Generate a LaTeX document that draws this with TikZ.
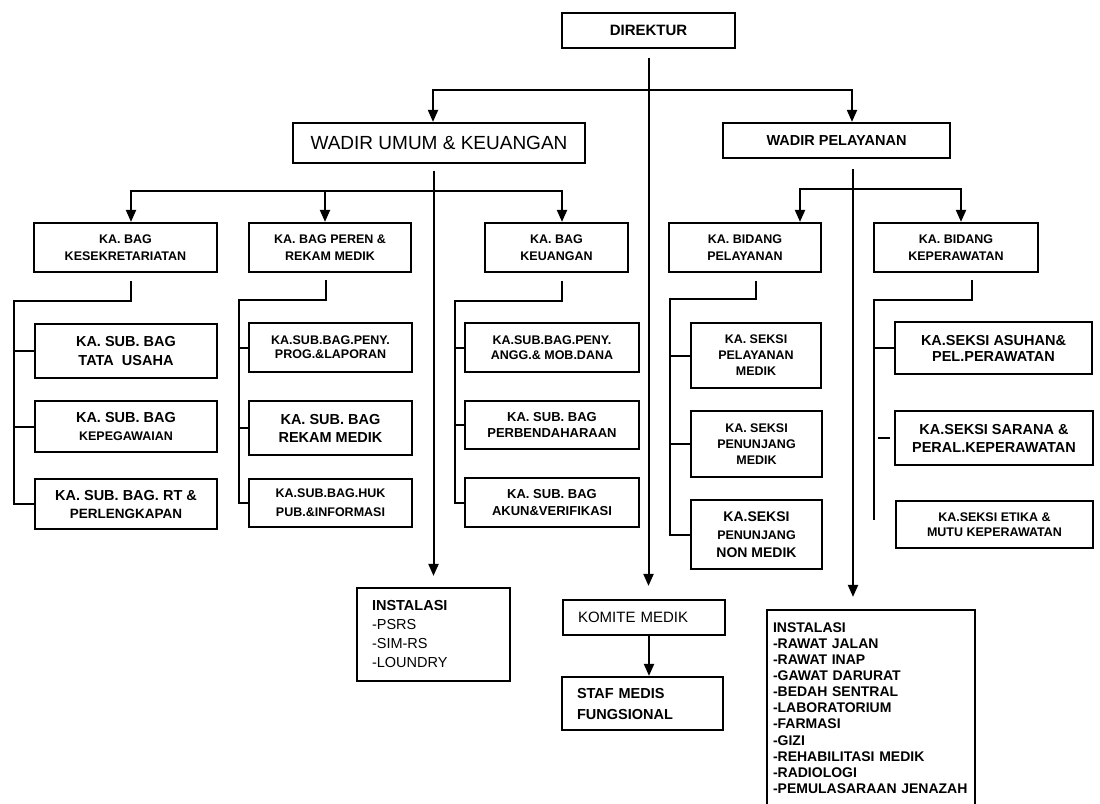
\documentclass[tikz,border=0pt]{standalone}
\usepackage{fontspec}
\setmainfont{Liberation Sans}
\usetikzlibrary{arrows.meta}
\newcommand{\fA}{\fontsize{12.5}{17}\selectfont\bfseries}
\newcommand{\fB}{\fontsize{14.5}{19}\selectfont\bfseries}
\newcommand{\mkbox}[7][]{\node[box,#1, minimum width={(#5-#3)*1pt}, minimum height={(#6-#4)*1pt}] (#2) at ({(#3+#5)/2},{(#4+#6)/2}) {#7};}
\newcommand{\mkboxl}[8][]{\node[box,#1, align=left, text width=#7pt, minimum width={(#5-#3)*1pt}, minimum height={(#6-#4)*1pt}] (#2) at ({(#3+#5)/2},{(#4+#6)/2}) {#8};}
\begin{document}
\begin{tikzpicture}[x=1pt,y=-1pt,
  box/.style={draw, line width=2.2pt, inner sep=0pt, align=center, font=\fA},
  ln/.style={line width=2pt},
  arr/.style={line width=2pt, -{Triangle[length=12pt,width=10pt]}}]
\fill[white] (0,0) rectangle (1100,803);
\useasboundingbox (0,0) rectangle (1100,803);

% top level
\mkbox[font=\fontsize{15}{19}\selectfont\bfseries]{dir}{562}{13}{735}{48}{DIREKTUR}
\mkbox[font=\fontsize{19}{23}\selectfont]{wum}{293}{123}{585}{163}{WADIR UMUM \& KEUANGAN}
\mkbox[font=\fontsize{14.5}{19}\selectfont\bfseries]{wpel}{723}{123}{950}{158}{WADIR PELAYANAN}

% ka. bag / ka. bidang
\mkbox{kes}{34}{223}{217}{272}{KA. BAG\\KESEKRETARIATAN}
\mkbox{per}{249}{223}{411}{272}{KA. BAG PEREN \&\\REKAM MEDIK}
\mkbox{keu}{485}{223}{628}{272}{KA. BAG\\KEUANGAN}
\mkbox{kbp}{669}{223}{821}{272}{KA. BIDANG\\PELAYANAN}
\mkbox{kbk}{874}{223}{1038}{272}{KA. BIDANG\\KEPERAWATAN}

% column 1
\mkbox[font=\fB]{s11}{35}{324}{217}{378}{KA. SUB. BAG\\TATA\ \ USAHA}
\mkbox[font=\fB]{s12}{35}{401}{217}{452}{KA. SUB. BAG\\[-1pt]{\fA KEPEGAWAIAN}}
\mkbox[font=\fB]{s13}{35}{479}{217}{529}{KA. SUB. BAG. RT \&\\[-1pt]{\fontsize{13.5}{17}\selectfont PERLENGKAPAN}}
% column 2
\mkbox{s21}{249}{323}{412}{372}{KA.SUB.BAG.PENY.\\[-3pt]PROG.\&LAPORAN}
\mkbox[font=\fB]{s22}{249}{401}{412}{455}{KA. SUB. BAG\\[-1pt]REKAM MEDIK}
\mkbox{s23}{249}{479}{412}{527}{KA.SUB.BAG.HUK\\[2pt]PUB.\&INFORMASI}
% column 3
\mkbox{s31}{465}{323}{639}{372}{KA.SUB.BAG.PENY.\\[-2pt]ANGG.\& MOB.DANA}
\mkbox[font=\fontsize{13}{17}\selectfont\bfseries]{s32}{465}{401}{639}{449}{KA. SUB. BAG\\[-1pt]PERBENDAHARAAN}
\mkbox[font=\fontsize{13}{17}\selectfont\bfseries]{s33}{465}{478}{639}{527}{KA. SUB. BAG\\AKUN\&VERIFIKASI}
% column 4
\mkbox{s41}{691}{323}{821}{388}{KA. SEKSI\\[-1pt]PELAYANAN\\[-1pt]MEDIK}
\mkbox{s42}{691}{411}{822}{477}{KA. SEKSI\\[-1pt]PENUNJANG\\[-1pt]MEDIK}
\mkbox[font=\fontsize{14}{18}\selectfont\bfseries]{s43}{691}{500}{822}{569}{KA.SEKSI\\{\fA PENUNJANG}\\NON MEDIK}
% column 5
\mkbox[font=\fB]{s51}{895}{322}{1092}{374}{KA.SEKSI ASUHAN\&\\[-3pt]PEL.PERAWATAN}
\mkbox[font=\fB]{s52}{895}{411}{1093}{465}{KA.SEKSI SARANA \&\\[-1pt]PERAL.KEPERAWATAN}
\mkbox{s53}{896}{501}{1093}{548}{KA.SEKSI ETIKA \&\\[-2pt]MUTU KEPERAWATAN}

% bottom
\mkboxl[font=\fontsize{14.5}{19}\selectfont]{inst1}{357}{588}{510}{681}{123}{\textbf{INSTALASI}\\-PSRS\\-SIM-RS\\-LOUNDRY}
\mkboxl[font=\fontsize{15}{19}\selectfont]{kom}{563}{600}{725}{635}{132}{KOMITE MEDIK}
\mkboxl[font=\fB]{staf}{562}{677}{723}{730}{131}{STAF MEDIS\\[2pt]FUNGSIONAL}
\mkboxl[font=\fontsize{14}{16.1}\selectfont\bfseries]{inst2}{767}{610}{975}{806}{196}{INSTALASI\\-RAWAT JALAN\\-RAWAT INAP\\-GAWAT DARURAT\\-BEDAH SENTRAL\\-LABORATORIUM\\-FARMASI\\-GIZI\\-REHABILITASI MEDIK\\-RADIOLOGI\\-PEMULASARAAN JENAZAH}

% top connectors
\coordinate (topbar) at (648,90);
\draw[arr, shorten <=9pt, shorten >=13pt] (dir.south) -- (dir.south |- kom.north);
\draw[arr] (topbar) -| ([xshift=-6pt]wum.north);
\draw[arr] (topbar) -| ([xshift=15.5pt]wpel.north);

% wadir umum
\coordinate (wumbar) at (433.5,191);
\draw[arr, shorten <=7pt, shorten >=11pt] (wum.south -| inst1.north) -- (inst1.north);
\draw[arr] (wumbar) -| ([xshift=5.5pt]kes.north);
\draw[arr] (wumbar) -| ([xshift=-5pt]per.north);
\draw[arr] (wumbar) -| ([xshift=5.5pt]keu.north);

% wadir pelayanan
\coordinate (wpx) at (853,189);
\draw[arr, shorten <=10pt, shorten >=12pt] (wpel.south -| wpx) -- (inst2.north -| wpx);
\draw[arr] (wpx) -| ([xshift=55pt]kbp.north);
\draw[arr] (wpx) -| ([xshift=5pt]kbk.north);

% komite -> staf
\draw[arr] ([xshift=5pt]kom.south) -- ([xshift=5pt]kom.south |- staf.north);

% column 1 tree
\coordinate (sp1) at (14,301);
\draw[ln] ([xshift=5.5pt,yshift=-8pt]kes.south) |- (sp1) -- (sp1 |- s13.west) -- (s13.west);
\draw[ln] (sp1 |- s11.west) -- (s11.west);
\draw[ln] (sp1 |- s12.west) -- (s12.west);
% column 2 tree
\coordinate (sp2) at (239,300);
\draw[ln] ([xshift=-4pt,yshift=-7pt]per.south) |- (sp2) -- (sp2 |- s23.west) -- (s23.west);
\draw[ln] (sp2 |- s21.west) -- (s21.west);
\draw[ln] (sp2 |- s22.west) -- (s22.west);
% column 3 tree
\coordinate (sp3) at (455,301);
\draw[ln] ([xshift=5.5pt,yshift=-8pt]keu.south) |- (sp3) -- (sp3 |- s33.west) -- (s33.west);
\draw[ln] (sp3 |- s31.west) -- (s31.west);
\draw[ln] (sp3 |- s32.west) -- (s32.west);
% column 4 tree
\coordinate (sp4) at (670,299);
\draw[ln] ([xshift=11pt,yshift=-8pt]kbp.south) |- (sp4) -- (sp4 |- s43.west) -- (s43.west);
\draw[ln] (sp4 |- s41.west) -- (s41.west);
\draw[ln] (sp4 |- s42.west) -- (s42.west);
% column 5 tree
\coordinate (sp5) at (874,300);
\coordinate (sp5end) at (874,520);
\draw[ln] ([xshift=16pt,yshift=-7pt]kbk.south) |- (sp5) -- (sp5end);
\draw[ln] (sp5 |- s51.west) -- (s51.west);
\draw[ln] ([xshift=-16pt]s52.west) -- ([xshift=-4pt]s52.west);
\end{tikzpicture}
\end{document}
